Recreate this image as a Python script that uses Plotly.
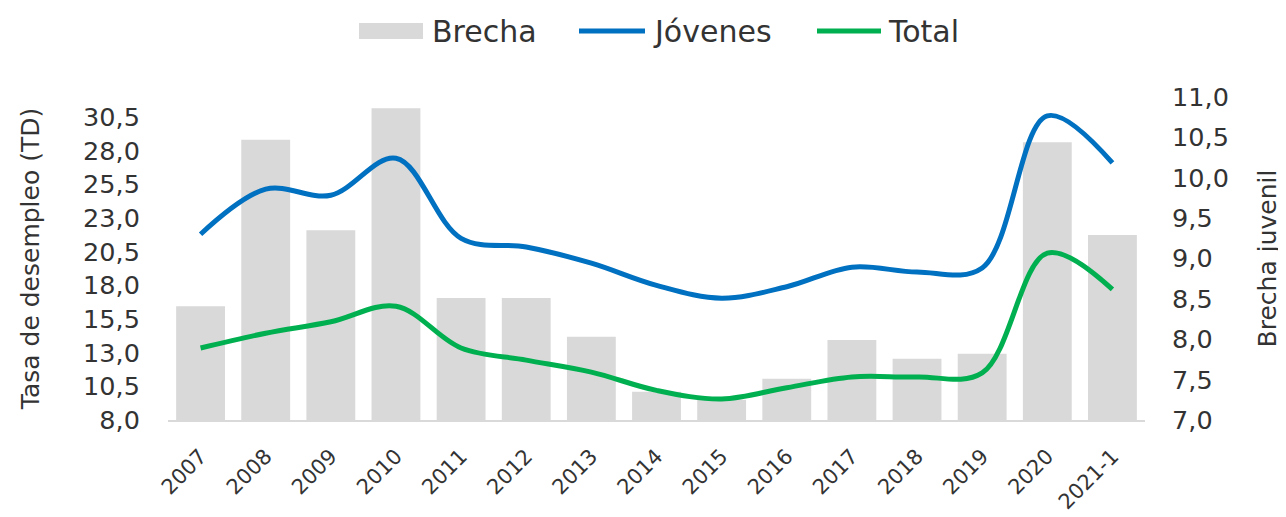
import plotly.graph_objects as go

categories = ["2007", "2008", "2009", "2010", "2011", "2012", "2013", "2014",
              "2015", "2016", "2017", "2018", "2019", "2020", "2021-1"]
brecha = [8.41, 10.47, 9.35, 10.86, 8.51, 8.51, 8.03, 7.35, 7.25, 7.51,
          7.99, 7.76, 7.82, 10.44, 9.29]
jovenes = [21.8, 25.15, 24.7, 27.45, 21.5, 20.85, 19.65, 18.0, 17.05, 17.9,
           19.35, 19.0, 19.3, 30.6, 27.1]
total = [13.35, 14.45, 15.3, 16.45, 13.35, 12.45, 11.56, 10.2, 9.56, 10.4,
         11.2, 11.2, 11.5, 20.4, 17.7]

left_ticks = [8.0, 10.5, 13.0, 15.5, 18.0, 20.5, 23.0, 25.5, 28.0, 30.5]
right_ticks = [7.0, 7.5, 8.0, 8.5, 9.0, 9.5, 10.0, 10.5, 11.0]

FONT = "DejaVu Sans"
TXT = "#333333"
GRAY = "#d9d9d9"
BLUE = "#0070c0"
GREEN = "#00b050"

# plot area on the page (page = figure + 8px body margin)
PX0, PX1, PY0, PY1 = 168, 1145, 97, 420


def px(x):
    return (x - PX0) / (PX1 - PX0)


def py(y):
    return (PY1 - y) / (PY1 - PY0)


fig = go.Figure()
fig.add_trace(go.Bar(x=categories, y=brecha, name="Brecha",
                     marker=dict(color=GRAY, line=dict(width=0)),
                     yaxis="y", showlegend=False))
fig.add_trace(go.Scatter(x=categories, y=jovenes, name="Jóvenes", mode="lines",
                         line=dict(color=BLUE, width=5, shape="spline", smoothing=1.0),
                         yaxis="y2", showlegend=False))
fig.add_trace(go.Scatter(x=categories, y=total, name="Total", mode="lines",
                         line=dict(color=GREEN, width=5, shape="spline", smoothing=1.0),
                         yaxis="y2", showlegend=False))

# custom legend
shapes = [
    dict(type="rect", xref="paper", yref="paper", x0=px(359), x1=px(423),
         y0=py(39), y1=py(23), fillcolor=GRAY, line=dict(width=0)),
    dict(type="line", xref="paper", yref="paper", x0=px(579), x1=px(645),
         y0=py(31), y1=py(31), line=dict(color=BLUE, width=5)),
    dict(type="line", xref="paper", yref="paper", x0=px(817), x1=px(881),
         y0=py(31), y1=py(31), line=dict(color=GREEN, width=5)),
]
annotations = []
for label, xl in [("Brecha", 430), ("Jóvenes", 651), ("Total", 886)]:
    annotations.append(dict(text=label, xref="paper", yref="paper", x=px(xl), y=py(32),
                            xanchor="left", yanchor="middle", showarrow=False,
                            font=dict(size=30, color=TXT, family=FONT)))

fig.update_layout(
    width=1278, height=509,
    margin=dict(l=160, r=141, t=89, b=97, autoexpand=False),
    paper_bgcolor="white", plot_bgcolor="white",
    font=dict(family=FONT, size=24, color=TXT),
    separators=",.",
    bargap=0.25,
    showlegend=False,
    shapes=shapes,
    annotations=annotations,
    xaxis=dict(type="category", tickangle=-45, showgrid=False, showline=True,
               linecolor=GRAY, linewidth=1.5, ticks="outside", ticklen=14,
               tickcolor="rgba(0,0,0,0)", tickfont=dict(size=21),
               range=[-0.5, 14.5], automargin=False),
    yaxis=dict(side="right", range=[7, 11], tickvals=right_ticks, tickformat=".1f",
               showgrid=False, showline=False, zeroline=False, automargin=False,
               ticks="outside", ticklen=21, tickcolor="rgba(0,0,0,0)",
               tickfont=dict(size=25.5),
               title=dict(text="Brecha juvenil", font=dict(size=25), standoff=30)),
    yaxis2=dict(side="left", overlaying="y", range=[8, 32.0], tickvals=left_ticks,
                tickformat=".1f", showgrid=False, showline=False, zeroline=False,
                automargin=False, tickfont=dict(size=25.5),
                ticks="outside", ticklen=22, tickcolor="rgba(0,0,0,0)",
                title=dict(text="Tasa de desempleo (TD)", font=dict(size=25), standoff=36)),
)

fig.write_html("out.html")
